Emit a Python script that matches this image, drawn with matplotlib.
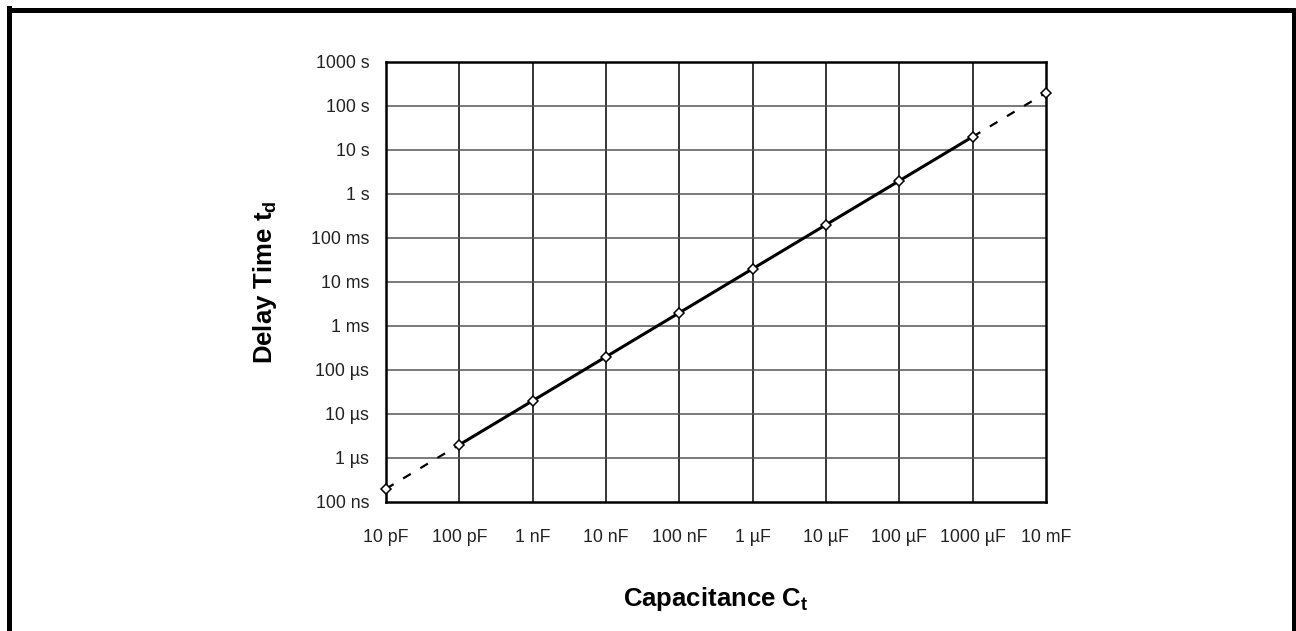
import matplotlib
matplotlib.use("Agg")
import matplotlib.pyplot as plt
from matplotlib.lines import Line2D

plt.rcParams['font.family'] = ['Liberation Sans', 'DejaVu Sans']
plt.rcParams['mathtext.fontset'] = 'custom'
plt.rcParams['mathtext.bf'] = 'Liberation Sans:bold'
plt.rcParams['mathtext.rm'] = 'Liberation Sans'

# Data
capacitance = [1e-11, 1e-10, 1e-9, 1e-8, 1e-7, 1e-6, 1e-5, 1e-4, 1e-3, 1e-2]
delay = [2e-7, 2e-6, 2e-5, 2e-4, 2e-3, 2e-2, 2e-1, 2e0, 2e1, 2e2]
x_ticks = [1e-11, 1e-10, 1e-9, 1e-8, 1e-7, 1e-6, 1e-5, 1e-4, 1e-3, 1e-2]
x_labels = ['10 pF', '100 pF', '1 nF', '10 nF', '100 nF', '1 µF', '10 µF',
            '100 µF', '1000 µF', '10 mF']
y_ticks = [1e-7, 1e-6, 1e-5, 1e-4, 1e-3, 1e-2, 1e-1, 1e0, 1e1, 1e2, 1e3]
y_labels = ['100 ns', '1 µs', '10 µs', '100 µs', '1 ms', '10 ms', '100 ms',
            '1 s', '10 s', '100 s', '1000 s']

W, H = 1296, 631
fig = plt.figure(figsize=(W / 100, H / 100), dpi=100)
ax = fig.add_axes([386 / W, 1 - 502 / H, 660 / W, 440 / H])
ax.set_xscale('log')
ax.set_yscale('log')
ax.set_xlim(x_ticks[0], x_ticks[-1])
ax.set_ylim(y_ticks[0], y_ticks[-1])

# grid
for xv in x_ticks[1:-1]:
    ax.axvline(xv, color='black', lw=1.1, zorder=1)
for yv in y_ticks[1:-1]:
    ax.axhline(yv, color='#555555', lw=1.1, zorder=1)

# dashed extensions
ax.plot(capacitance[:2], delay[:2], color='black', lw=1.6, ls=(0, (4, 5)), zorder=3)
ax.plot(capacitance[-2:], delay[-2:], color='black', lw=1.6, ls=(0, (4, 5)), zorder=3)
# solid part
ax.plot(capacitance[1:-1], delay[1:-1], color='black', lw=2.2, zorder=3)
# markers
ax.plot(capacitance, delay, ls='none', marker='D', ms=5, mfc='white',
        mec='black', mew=1.1, zorder=4, clip_on=False)

ax.set_xticks(x_ticks)
ax.set_xticklabels(x_labels)
ax.set_yticks(y_ticks)
ax.set_yticklabels(y_labels)
ax.minorticks_off()
ax.tick_params(axis='both', length=0, labelsize=12.8, colors='#222222')
ax.tick_params(axis='x', pad=19.5)
ax.tick_params(axis='y', pad=12)

for s in ax.spines.values():
    s.set_linewidth(1.8)
    s.set_color('black')

ax.set_xlabel('Capacitance C$_\\mathbf{t}$', fontsize=18.5, fontweight='bold', labelpad=28)
ax.set_ylabel('Delay Time t$_\\mathbf{d}$', fontsize=18.5, fontweight='bold', labelpad=23)

# figure border (left, top, right)
lw_b = 3.6
fig.add_artist(Line2D([8.5 / W, 8.5 / W], [0, 1 - 8 / H], transform=fig.transFigure,
                      color='black', lw=lw_b, solid_capstyle='projecting'))
fig.add_artist(Line2D([8.5 / W, 1 - 2.5 / W], [1 - 10 / H, 1 - 10 / H], transform=fig.transFigure,
                      color='black', lw=lw_b, solid_capstyle='projecting'))
fig.add_artist(Line2D([1 - 2.5 / W, 1 - 2.5 / W], [0, 1 - 10 / H], transform=fig.transFigure,
                      color='black', lw=lw_b, solid_capstyle='projecting'))

fig.savefig('out.png', dpi=100)
